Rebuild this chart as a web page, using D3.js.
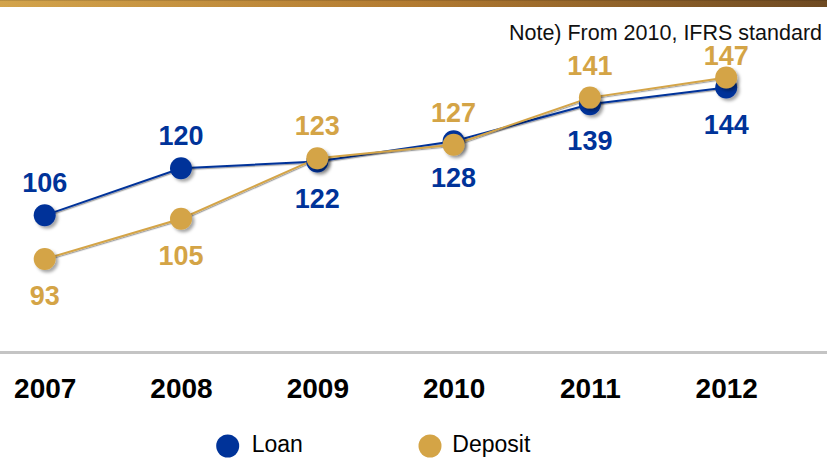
<!DOCTYPE html>
<html>
<head>
<meta charset="utf-8">
<script src="https://cdn.jsdelivr.net/npm/d3@7"></script>
<style>
  html, body { margin: 0; padding: 0; background: #fff; }
  svg { display: block; font-family: "Liberation Sans", Arial, sans-serif; }
</style>
</head>
<body>
<svg id="chart" width="827" height="458"></svg>
<script>
// Loan / deposit trend, 2007–2012
const years = ["2007", "2008", "2009", "2010", "2011", "2012"];
const loanValues = [106, 120, 122, 128, 139, 144];
const depositValues = [93, 105, 123, 127, 141, 147];
const seriesNames = ["Loan", "Deposit"];
const noteText = "Note) From 2010, IFRS standard";

const W = 827, H = 458;
const loanColor = "#003399";
const depositColor = "#D4A446";

// which side of the marker each value label sits on
const labelSide = {
  Loan:    ["above", "above", "below", "below", "below", "below"],
  Deposit: ["below", "below", "above", "above", "above", "above"]
};

const svg = d3.select("#chart");
const defs = svg.append("defs");

// header band gradient
const grad = defs.append("linearGradient").attr("id", "band")
  .attr("x1", "0%").attr("x2", "100%").attr("y1", "0%").attr("y2", "0%");
grad.append("stop").attr("offset", "0%").attr("stop-color", "#d3a44c");
grad.append("stop").attr("offset", "50%").attr("stop-color", "#b27a30");
grad.append("stop").attr("offset", "100%").attr("stop-color", "#6e4a22");

const shadow = defs.append("filter").attr("id", "shadow")
  .attr("x", "-50%").attr("y", "-50%").attr("width", "200%").attr("height", "200%");
shadow.append("feDropShadow").attr("dx", 2.5).attr("dy", 2.5)
  .attr("stdDeviation", 1.8).attr("flood-color", "#000").attr("flood-opacity", 0.35);

const lineShadow = defs.append("filter").attr("id", "lineShadow")
  .attr("x", "-10%").attr("y", "-50%").attr("width", "120%").attr("height", "200%");
lineShadow.append("feDropShadow").attr("dx", 1).attr("dy", 1.2)
  .attr("stdDeviation", 0.6).attr("flood-color", "#000").attr("flood-opacity", 0.35);

svg.append("rect").attr("x", 0).attr("y", 0).attr("width", W).attr("height", 7)
  .attr("fill", "url(#band)");
svg.append("rect").attr("x", 0).attr("y", 0).attr("width", W).attr("height", 1)
  .attr("fill", "#000").attr("opacity", 0.12);

// scales
const x = d3.scalePoint().domain(years).range([44.7, 726.2]).padding(0);
const y = d3.scaleLinear().domain([80, 160]).range([302.8, 33.7]);

// baseline rule
svg.append("rect").attr("x", 0).attr("y", 351).attr("width", W).attr("height", 3)
  .attr("fill", "#c4c4c4");

// year axis
const axis = svg.append("g").attr("transform", "translate(0,398)")
  .call(d3.axisBottom(x).tickSize(0).tickPadding(0));
axis.select(".domain").remove();
axis.selectAll("text")
  .attr("y", 0).attr("dy", 0)
  .attr("fill", "#000")
  .style("font-family", "'Liberation Sans', Arial, sans-serif")
  .style("font-size", "28px")
  .style("font-weight", "bold");

// note
svg.append("text").attr("x", 822).attr("y", 40)
  .attr("text-anchor", "end")
  .attr("fill", "#111")
  .style("font-size", "21.5px")
  .text(noteText);

const series = [
  { name: seriesNames[0], values: loanValues, color: loanColor },
  { name: seriesNames[1], values: depositValues, color: depositColor }
];

const line = d3.line().x(d => x(d.year)).y(d => y(d.value));
const points = s => years.map((yr, i) => ({ year: yr, value: s.values[i], i }));

// lines
series.forEach(s => {
  svg.append("path")
    .datum(points(s))
    .attr("d", line)
    .attr("fill", "none")
    .attr("stroke", s.color)
    .attr("stroke-width", 2)
    .attr("filter", "url(#lineShadow)");
});

// markers
series.forEach(s => {
  svg.append("g").selectAll("circle")
    .data(points(s))
    .join("circle")
    .attr("cx", d => x(d.year))
    .attr("cy", d => y(d.value))
    .attr("r", 11)
    .attr("fill", s.color)
    .attr("filter", "url(#shadow)");
});

// value labels (kept clear of the note line at the top)
series.forEach(s => {
  svg.append("g").selectAll("text")
    .data(points(s))
    .join("text")
    .attr("x", d => x(d.year))
    .attr("y", d => {
      const cy = y(d.value);
      return labelSide[s.name][d.i] === "above" ? Math.max(cy - 23, 65) : cy + 46;
    })
    .attr("text-anchor", "middle")
    .attr("fill", s.color)
    .style("font-size", "27px")
    .style("font-weight", "bold")
    .text(d => d.value);
});

// legend
const legendPos = [{ cx: 227.7, tx: 251.7 }, { cx: 430, tx: 452.3 }];
series.forEach((s, i) => {
  svg.append("circle")
    .attr("cx", legendPos[i].cx).attr("cy", 446).attr("r", 11.5)
    .attr("fill", s.color);
  svg.append("text")
    .attr("x", legendPos[i].tx).attr("y", 452)
    .attr("fill", "#000")
    .style("font-size", "23px")
    .text(s.name);
});
</script>
</body>
</html>
